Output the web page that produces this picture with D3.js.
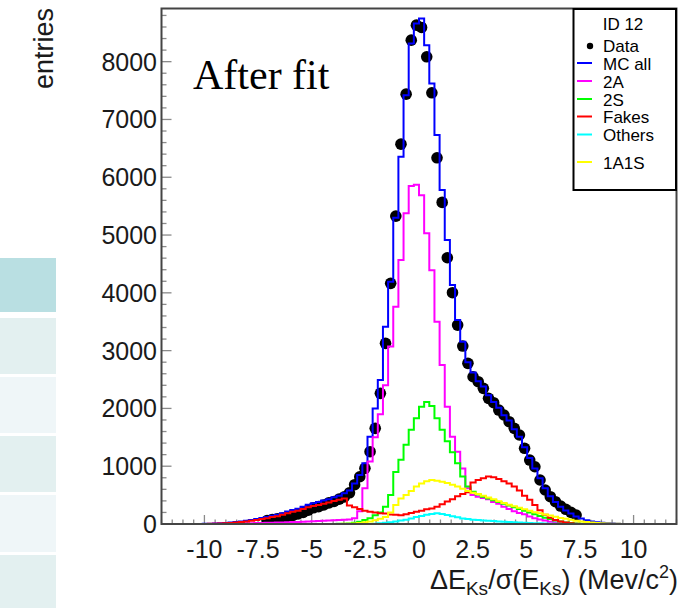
<!DOCTYPE html>
<html>
<head>
<meta charset="utf-8">
<script src="https://cdn.jsdelivr.net/npm/d3@7"></script>
<style>
  html, body { margin: 0; padding: 0; background: #fff; }
  svg { display: block; }
</style>
</head>
<body>
<svg id="chart" width="691" height="608"></svg>
<script>
// histogram range: 100 bins from -12 to 12
const xMin = -12, xMax = 12, nBins = 100;
const xTickLabels = [-10, -7.5, -5, -2.5, 0, 2.5, 5, 7.5, 10];
const yTickLabels = [0, 1000, 2000, 3000, 4000, 5000, 6000, 7000, 8000];
const yMax = 8920;

// bin contents, bin 0 .. 99
const dataCounts = [
  0,0,0,0,0,0,0,0,0,0,
  0,0,0,0,0,0,0,0,0,0,
  60,75,90,105,125,150,175,200,240,280,
  300,330,365,390,430,470,540,680,818,963,
  1251,1655,2261,3126,4164,5328,6573,7438,8372,8632,
  8592,8084,7461,6337,5565,4607,4002,3442,3079,2780,
  2548,2462,2347,2174,2099,1972,1886,1770,1655,1540,
  1310,1107,991,761,588,472,386,311,254,202,
  156,0,0,0,0,0,0,0,0,0,
  0,0,0,0,0,0,0,0,0,0
];
const mcAll = [
  0,0,0,0,0,0,0,1,3,5,
  8,12,17,24,33,45,57,69,86,103,
  120,142,160,188,215,243,266,300,334,358,
  382,406,430,464,490,530,580,700,850,1050,
  1510,2000,2490,3414,4193,5300,6355,7420,8315,8660,
  8748,8286,7624,6729,5778,4913,4134,3529,3154,2800,
  2620,2470,2380,2230,2110,2010,1880,1790,1640,1510,
  1330,1140,960,790,620,480,380,300,235,180,
  130,95,65,45,30,20,12,7,4,2,
  0,0,0,0,0,0,0,0,0,0
];
const mc2A = [
  0,0,0,0,0,0,0,0,1,2,
  3,4,5,6,8,10,12,14,16,18,
  20,22,25,28,30,33,36,40,44,48,
  52,56,60,64,68,72,78,100,220,620,
  1080,1500,1900,2400,3070,3760,4570,5375,5850,5870,
  5690,5030,4390,3500,2750,2030,1510,1250,960,620,
  500,470,450,430,380,350,300,260,220,190,
  170,130,100,80,60,40,25,15,8,4,
  2,0,0,0,0,0,0,0,0,0,
  0,0,0,0,0,0,0,0,0,0
];
const mc2S = [
  0,0,0,0,0,0,0,0,0,0,
  0,0,0,0,0,0,0,0,0,0,
  0,0,0,0,0,0,0,0,0,0,
  0,0,1,2,3,5,8,20,40,70,
  100,150,200,300,500,900,1110,1370,1630,1830,
  2030,2110,2040,1830,1630,1430,1240,1050,820,650,
  560,510,470,440,410,380,350,320,290,260,
  230,200,170,140,110,85,62,42,28,16,
  8,4,2,0,0,0,0,0,0,0,
  0,0,0,0,0,0,0,0,0,0
];
const mcFakes = [
  0,0,0,0,0,0,0,1,2,3,
  5,8,12,18,25,35,45,55,70,85,
  100,120,135,160,185,210,230,260,290,310,
  330,350,370,400,420,440,320,290,260,230,
  210,200,185,180,165,160,150,170,190,210,
  230,255,270,300,340,390,430,480,520,550,
  720,760,790,820,810,780,740,700,650,580,
  490,420,330,240,160,110,70,45,25,12,
  5,2,0,0,0,0,0,0,0,0,
  0,0,0,0,0,0,0,0,0,0
];
const mcOthers = [
  0,0,0,0,0,0,0,0,0,0,
  0,0,0,0,0,0,0,0,0,0,
  0,0,0,0,0,0,0,0,0,0,
  0,0,0,0,0,0,0,0,0,0,
  0,5,12,20,30,45,60,75,95,120,
  140,160,175,185,175,155,135,115,95,85,
  75,68,62,56,50,45,40,36,32,27,
  23,19,15,11,8,5,3,2,0,0,
  0,0,0,0,0,0,0,0,0,0,
  0,0,0,0,0,0,0,0,0,0
];
const mc1A1S = [
  0,0,0,0,0,0,0,0,0,0,
  0,0,0,0,0,0,0,0,0,0,
  0,0,0,0,0,0,0,0,0,0,
  0,0,0,0,1,3,5,10,18,30,
  45,65,90,120,200,330,440,500,570,650,
  700,740,760,750,730,710,680,650,610,570,
  540,520,490,460,430,395,365,335,305,280,
  255,230,205,185,165,145,125,105,90,72,
  58,45,34,25,18,12,8,5,3,2,
  1,0,0,0,0,0,0,0,0,0
];

const seriesNames = ['MC all', '2A', '2S', 'Fakes', 'Others', '1A1S'];
const seriesColors = ['#0000ff', '#ff00ff', '#00ff00', '#ff0000', '#00ffff', '#ffff00'];
const seriesValues = [mcAll, mc2A, mc2S, mcFakes, mcOthers, mc1A1S];

const svg = d3.select('#chart');
const frame = { left: 161.5, right: 676.5, top: 8.5, bottom: 524 };

// slide background strip on the left edge
const stripRows = [[258, 312, '#b9dfe2'], [318, 374, '#e3f0f0'], [377, 433, '#eff6f8'],
                   [436, 492, '#e3f0f0'], [495, 552, '#eff6f8'], [555, 608, '#e3f0f0']];
svg.selectAll('rect.strip')
    .data(stripRows)
    .enter().append('rect')
    .attr('class', 'strip')
    .attr('x', 0).attr('width', 56)
    .attr('y', d => d[0]).attr('height', d => d[1] - d[0])
    .attr('fill', d => d[2]);

const x = d3.scaleLinear().domain([xMin, xMax]).range([frame.left, frame.right]);
const y = d3.scaleLinear().domain([0, yMax]).range([frame.bottom, frame.top]);
const binWidth = (xMax - xMin) / nBins;
const binEdge = i => xMin + i * binWidth;
const binCenter = i => xMin + (i + 0.5) * binWidth;

svg.append('defs').append('clipPath').attr('id', 'plotClip')
    .append('rect')
    .attr('x', frame.left).attr('y', frame.top)
    .attr('width', frame.right - frame.left).attr('height', frame.bottom - frame.top);

// axes ticks
const xAxis = svg.append('g');
const minorX = d3.range(xMin, xMax + 0.001, 0.5);
xAxis.selectAll('line')
    .data(minorX)
    .enter().append('line')
    .attr('x1', d => x(d)).attr('x2', d => x(d))
    .attr('y1', frame.bottom)
    .attr('y2', d => frame.bottom - (Math.abs(d % 5) < 1e-6 ? 9 : 4.5))
    .attr('stroke', '#8a8a8a').attr('stroke-width', 1.3);

xAxis.selectAll('text')
    .data(xTickLabels)
    .enter().append('text')
    .attr('x', d => x(d))
    .attr('y', 558)
    .attr('text-anchor', 'middle')
    .attr('font-family', 'Liberation Sans, Arial, sans-serif')
    .attr('font-size', 25)
    .attr('fill', '#1a1a1a')
    .text(d => d);

const yAxis = svg.append('g');
const minorY = d3.range(0, yMax, 200);
yAxis.selectAll('line')
    .data(minorY)
    .enter().append('line')
    .attr('y1', d => y(d)).attr('y2', d => y(d))
    .attr('x1', frame.left)
    .attr('x2', d => frame.left + (d % 1000 === 0 ? 10 : 5))
    .attr('stroke', '#8a8a8a').attr('stroke-width', 1.3);

yAxis.selectAll('text')
    .data(yTickLabels)
    .enter().append('text')
    .attr('x', 157)
    .attr('y', d => y(d) + 9)
    .attr('text-anchor', 'end')
    .attr('font-family', 'Liberation Sans, Arial, sans-serif')
    .attr('font-size', 25)
    .attr('fill', '#1a1a1a')
    .text(d => d);

// data points first, histograms drawn over them
const plot = svg.append('g').attr('clip-path', 'url(#plotClip)');
plot.selectAll('circle')
    .data(dataCounts.map((v, i) => ({ i, v })).filter(d => d.v > 0))
    .enter().append('circle')
    .attr('cx', d => x(binCenter(d.i)))
    .attr('cy', d => y(d.v))
    .attr('r', 5.8)
    .attr('fill', '#000');

const stepLine = d3.line()
    .x(d => x(d[0]))
    .y(d => y(d[1]))
    .curve(d3.curveStepAfter);

seriesValues.forEach((vals, k) => {
    const pts = vals.map((v, i) => [binEdge(i), v]);
    pts.push([binEdge(nBins), vals[nBins - 1]]);
    plot.append('path')
        .datum(pts)
        .attr('d', stepLine)
        .attr('fill', 'none')
        .attr('stroke', seriesColors[k])
        .attr('stroke-width', 2);
});

// frame
svg.append('rect')
    .attr('x', frame.left).attr('y', frame.top)
    .attr('width', frame.right - frame.left).attr('height', frame.bottom - frame.top)
    .attr('fill', 'none').attr('stroke', '#444').attr('stroke-width', 2);

// legend
const legend = svg.append('g');
legend.append('rect')
    .attr('x', 573.5).attr('y', 9)
    .attr('width', 102.5).attr('height', 181)
    .attr('fill', '#fff').attr('stroke', '#000').attr('stroke-width', 2);

const legendFont = 'Liberation Sans, Arial, sans-serif';
legend.append('text')
    .attr('x', 623).attr('y', 30)
    .attr('text-anchor', 'middle')
    .attr('font-family', legendFont).attr('font-size', 17)
    .text('ID 12');

legend.append('circle').attr('cx', 590).attr('cy', 46).attr('r', 3.2).attr('fill', '#000');
legend.append('text')
    .attr('x', 603).attr('y', 51.5)
    .attr('font-family', legendFont).attr('font-size', 17)
    .text('Data');

const legendBaselines = [69.5, 87.5, 105.5, 123, 141, 168.5];
seriesNames.forEach((name, k) => {
    const by = legendBaselines[k];
    legend.append('line')
        .attr('x1', 577).attr('x2', 592)
        .attr('y1', by - 6.5).attr('y2', by - 6.5)
        .attr('stroke', seriesColors[k]).attr('stroke-width', 2);
    legend.append('text')
        .attr('x', 603).attr('y', by)
        .attr('font-family', legendFont).attr('font-size', 17)
        .text(name);
});

// "After fit" annotation
svg.append('text')
    .attr('x', 193).attr('y', 89)
    .attr('font-family', 'Liberation Serif, Times New Roman, serif')
    .attr('font-size', 42)
    .attr('fill', '#000')
    .text('After fit');

// axis titles
const xTitle = svg.append('text')
    .attr('x', 678).attr('y', 589)
    .attr('text-anchor', 'end')
    .attr('font-family', 'Liberation Sans, Arial, sans-serif')
    .attr('font-size', 27)
    .attr('fill', '#1a1a1a');
xTitle.append('tspan').text('\u0394E');
xTitle.append('tspan').attr('font-size', 19).attr('dy', 6).text('Ks');
xTitle.append('tspan').attr('dy', -6).text('/\u03c3(E');
xTitle.append('tspan').attr('font-size', 19).attr('dy', 6).text('Ks');
xTitle.append('tspan').attr('dy', -6).text(') (Mev/c');
xTitle.append('tspan').attr('font-size', 18).attr('dy', -11).text('2');
xTitle.append('tspan').attr('dy', 11).text(')');

svg.append('text')
    .attr('transform', 'translate(53,8) rotate(-90)')
    .attr('text-anchor', 'end')
    .attr('font-family', 'Liberation Sans, Arial, sans-serif')
    .attr('font-size', 27)
    .attr('fill', '#1a1a1a')
    .text('entries');
</script>
</body>
</html>
